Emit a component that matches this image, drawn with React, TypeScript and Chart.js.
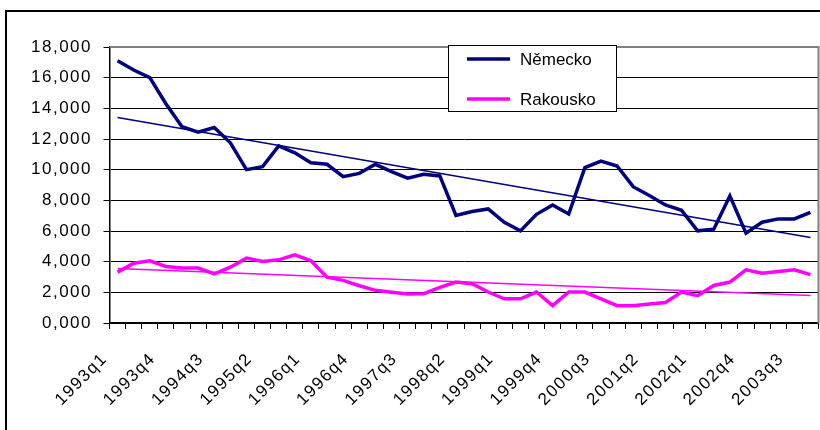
import React, { useEffect, useRef } from 'react';
import { Chart, registerables } from 'chart.js';

Chart.register(...registerables);

const categories = [
  '1993q1', '1993q2', '1993q3', '1993q4',
  '1994q1', '1994q2', '1994q3', '1994q4',
  '1995q1', '1995q2', '1995q3', '1995q4',
  '1996q1', '1996q2', '1996q3', '1996q4',
  '1997q1', '1997q2', '1997q3', '1997q4',
  '1998q1', '1998q2', '1998q3', '1998q4',
  '1999q1', '1999q2', '1999q3', '1999q4',
  '2000q1', '2000q2', '2000q3', '2000q4',
  '2001q1', '2001q2', '2001q3', '2001q4',
  '2002q1', '2002q2', '2002q3', '2002q4',
  '2003q1', '2003q2', '2003q3', '2003q4',
];

const nemecko = [
  17.10, 16.50, 16.00, 14.30, 12.80, 12.45, 12.75, 11.75, 10.00, 10.20, 11.55,
  11.10, 10.45, 10.35, 9.54, 9.76, 10.35, 9.87, 9.45, 9.70, 9.59, 7.01,
  7.27, 7.44, 6.57, 6.01, 7.09, 7.70, 7.11, 10.13, 10.56, 10.24, 8.89,
  8.31, 7.70, 7.35, 6.01, 6.12, 8.29, 5.86, 6.57, 6.79, 6.79, 7.22,
];

const rakousko = [
  3.32, 3.90, 4.06, 3.69, 3.58, 3.58, 3.21, 3.64, 4.23, 4.01, 4.12,
  4.45, 4.06, 2.99, 2.78, 2.43, 2.13, 2.00, 1.89, 1.91, 2.32, 2.67,
  2.56, 2.02, 1.58, 1.58, 2.02, 1.13, 2.02, 2.02, 1.58, 1.13, 1.13,
  1.24, 1.34, 2.02, 1.78, 2.45, 2.67, 3.47, 3.25, 3.36, 3.47, 3.15,
];

// trend line values at first and last quarter
const nemeckoTrendEnds = [13.40, 5.57];
const rakouskoTrendEnds = [3.55, 1.80];

const seriesNames = ['Německo', 'Rakousko'];
const seriesColors = ['#000080', '#FF00FF'];

const yTickFormat = (v: number) => Number(v).toFixed(3).replace('.', ',');

function trendArray(ends: number[]) {
  return categories.map((_, i) =>
    i === 0 ? ends[0] : i === categories.length - 1 ? ends[1] : null
  );
}

const FONT_FAMILY = '"Liberation Sans", Arial, sans-serif';

const decorPlugin = {
  id: 'decor',
  beforeLayout(chart: any) {
    chart.ctx.letterSpacing = '1.5px';
  },
  beforeDraw(chart: any) {
    const ctx = chart.ctx;
    ctx.save();
    ctx.fillStyle = '#ffffff';
    ctx.fillRect(0, 0, chart.width, chart.height);
    ctx.restore();
    ctx.letterSpacing = '1.5px';
  },
  beforeDatasetsDraw(chart: any) {
    const { ctx, chartArea } = chart;
    ctx.save();
    ctx.strokeStyle = '#808080';
    ctx.lineWidth = 2;
    ctx.beginPath();
    ctx.moveTo(chartArea.left, chartArea.top);
    ctx.lineTo(chartArea.right, chartArea.top);
    ctx.lineTo(chartArea.right, chartArea.bottom);
    ctx.stroke();
    ctx.restore();
  },
  afterDraw(chart: any) {
    const ctx = chart.ctx;
    ctx.save();
    ctx.letterSpacing = '0px';
    // outer chart border
    ctx.strokeStyle = '#000000';
    ctx.lineWidth = 2;
    ctx.beginPath();
    ctx.moveTo(6, chart.height);
    ctx.lineTo(6, 11);
    ctx.lineTo(chart.width, 11);
    ctx.stroke();

    // legend box
    const bx = 448, by = 45, bw = 168, bh = 66;
    ctx.fillStyle = '#ffffff';
    ctx.fillRect(bx, by, bw, bh);
    ctx.strokeStyle = '#000000';
    ctx.lineWidth = 1;
    ctx.strokeRect(bx + 0.5, by + 0.5, bw, bh);
    const rows = [59, 99];
    ctx.font = `17px ${FONT_FAMILY}`;
    ctx.textBaseline = 'middle';
    ctx.textAlign = 'left';
    seriesNames.forEach((name, i) => {
      ctx.strokeStyle = seriesColors[i];
      ctx.lineWidth = 3.5;
      ctx.beginPath();
      ctx.moveTo(467, rows[i]);
      ctx.lineTo(510, rows[i]);
      ctx.stroke();
      ctx.fillStyle = '#000000';
      ctx.fillText(name, 520, rows[i] + 1);
    });
    ctx.restore();
  },
};

export default function App() {
  const canvasRef = useRef<HTMLCanvasElement | null>(null);

  useEffect(() => {
    if (!canvasRef.current) return;
    const chart = new Chart(canvasRef.current, {
      type: 'line',
      data: {
        labels: categories,
        datasets: [
          {
            label: seriesNames[0],
            data: nemecko,
            borderColor: seriesColors[0],
            borderWidth: 3.5,
            pointRadius: 0,
            tension: 0,
            order: 1,
          },
          {
            label: seriesNames[1],
            data: rakousko,
            borderColor: seriesColors[1],
            borderWidth: 3.5,
            pointRadius: 0,
            tension: 0,
            order: 1,
          },
          {
            label: 'trend1',
            data: trendArray(nemeckoTrendEnds),
            borderColor: seriesColors[0],
            borderWidth: 1.5,
            pointRadius: 0,
            spanGaps: true,
            order: 0,
          },
          {
            label: 'trend2',
            data: trendArray(rakouskoTrendEnds),
            borderColor: seriesColors[1],
            borderWidth: 1.5,
            pointRadius: 0,
            spanGaps: true,
            order: 0,
          },
        ],
      },
      options: {
        animation: false,
        responsive: false,
        maintainAspectRatio: false,
        events: [],
        layout: { padding: { left: 0, top: 47, right: 1.5, bottom: 0 } },
        plugins: {
          legend: { display: false },
          tooltip: { enabled: false },
          title: { display: false },
        },
        scales: {
          x: {
            type: 'category',
            offset: true,
            grid: {
              offset: true,
              drawOnChartArea: false,
              drawTicks: true,
              tickLength: 6,
              color: '#000000',
            },
            border: { display: true, color: '#000000', width: 1.5 },
            ticks: {
              autoSkip: false,
              maxRotation: 45,
              minRotation: 45,
              padding: 20,
              labelOffset: -13,
              color: '#000000',
              font: { family: FONT_FAMILY, size: 17 },
              callback: (_v: any, i: number) => (i % 3 === 0 ? categories[i] : ''),
            },
            afterFit: (scale: any) => {
              scale.height = 107;
              scale.paddingLeft = 0;
              scale.paddingRight = 0;
            },
          },
          y: {
            min: 0,
            max: 18,
            grid: {
              color: '#000000',
              lineWidth: 1,
              tickLength: 6,
            },
            border: { display: true, color: '#000000', width: 1.5 },
            ticks: {
              stepSize: 2,
              padding: 11.5,
              color: '#000000',
              font: { family: FONT_FAMILY, size: 17 },
              callback: (v: any) => yTickFormat(Number(v)),
            },
            afterFit: (scale: any) => {
              scale.width = 109.5;
              scale.paddingTop = 0;
              scale.paddingBottom = 0;
            },
          },
        },
      },
      plugins: [decorPlugin],
    });
    return () => chart.destroy();
  }, []);

  return (
    <div style={{ position: 'fixed', left: 0, top: 0, width: 820, height: 430, background: '#fff' }}>
      <canvas ref={canvasRef} width={820} height={430} style={{ display: 'block', width: 820, height: 430 }} />
    </div>
  );
}
